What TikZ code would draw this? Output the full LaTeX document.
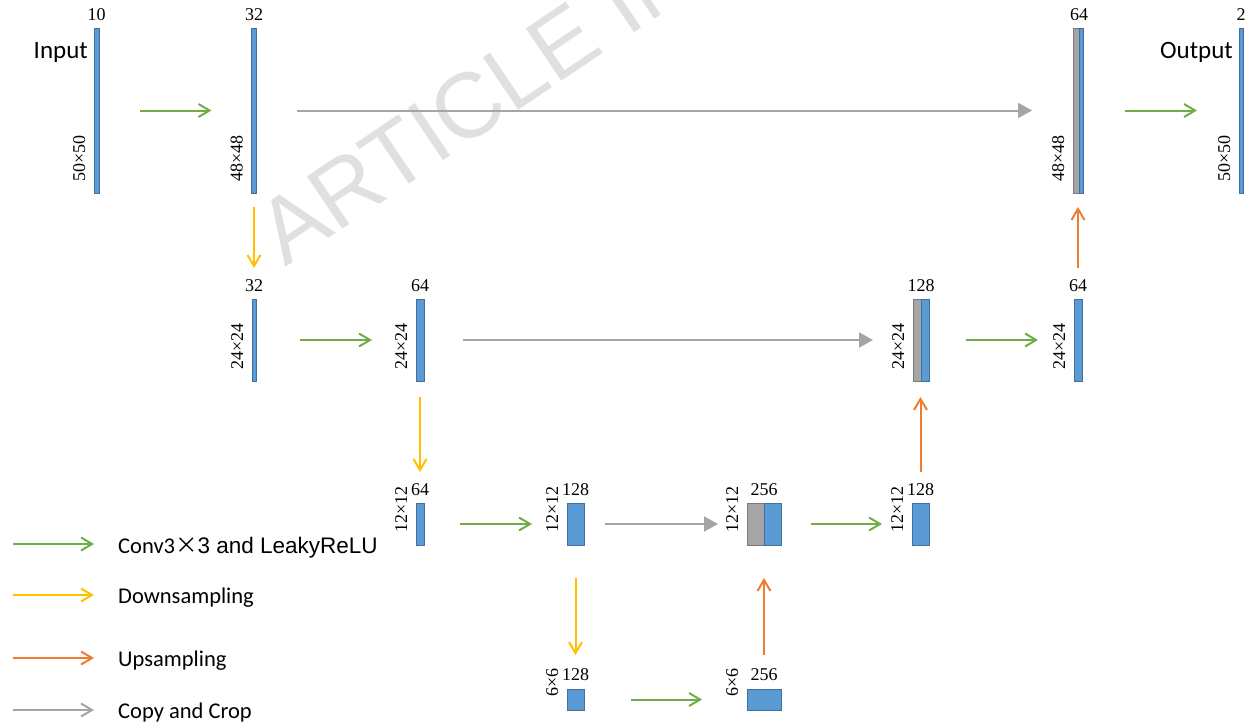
\documentclass[tikz,border=0pt]{standalone}
\usepackage{fontspec}
\setmainfont{Liberation Serif}
\newfontfamily\calfont{Carlito}
\newfontfamily\wmfont{Liberation Sans}
\newfontfamily\arialfont{Liberation Sans}
\newfontfamily\cjkfont{Noto Sans CJK SC}
\usetikzlibrary{arrows.meta}
\definecolor{ublue}{HTML}{5B9BD5}
\definecolor{bblue}{HTML}{41719C}
\definecolor{ugray}{HTML}{A5A5A5}
\definecolor{bgray}{HTML}{7A7A7A}
\definecolor{cgreen}{HTML}{70AD47}
\definecolor{cyellow}{HTML}{FFC000}
\definecolor{corange}{HTML}{ED7D31}
\definecolor{cgrey}{HTML}{A5A5A5}
\definecolor{wmgray}{HTML}{E0E0E0}
\begin{document}
\begin{tikzpicture}[x=1pt,y=-1pt,
  fm/.style={inner sep=0pt, outer sep=0pt, draw=bblue, fill=ublue, line width=0.8pt},
  fg/.style={inner sep=0pt, outer sep=0pt, draw=bgray, fill=ugray, line width=0.8pt},
  num/.style={inner sep=0pt, font=\fontsize{18}{21}\selectfont, anchor=base},
  dimlab/.style={inner sep=0pt, font=\fontsize{18}{21}\selectfont, rotate=90, anchor=base west},
  big/.style={inner sep=0pt, font=\calfont\fontsize{25}{30}\selectfont},
  leg/.style={inner sep=0pt, font=\calfont\fontsize{22.5}{27}\selectfont, anchor=base west},
  arr/.style={line width=2pt, -{Straight Barb[length=11pt,width=13pt,line width=2pt]}},
  tri/.style={line width=2pt, cgrey, -{Triangle[length=14pt,width=15pt]}},
]
\useasboundingbox (0,0) rectangle (1248,723);
% watermark
\begin{scope}
\clip (0,0) rectangle (1248,723);
\node[inner sep=0pt, anchor=base west, rotate=34, text=wmgray, font=\wmfont\fontsize{92}{106}\selectfont] (wm) at (285,268) {ARTICLE IN};
\end{scope}

% ---- boxes ----
% row 1
\node[fm, minimum width=5pt, minimum height=165pt] (in) at (96.5,110.5) {};
\node[fm, minimum width=5pt, minimum height=165pt] (a32) at (254,110.5) {};
\node[fg, minimum width=6pt, minimum height=165pt] (g64) at (1076,110.5) {};
\node[fm, minimum width=4pt, minimum height=165pt] (a64) at (1081,110.5) {};
\node[fm, minimum width=4pt, minimum height=165pt] (out) at (1241,110.5) {};
% row 2
\node[fm, minimum width=4pt, minimum height=82pt] (b32) at (254,340) {};
\node[fm, minimum width=8pt, minimum height=82pt] (b64) at (420,340) {};
\node[fg, minimum width=8pt, minimum height=82pt] (g128) at (917,340) {};
\node[fm, minimum width=8pt, minimum height=82pt] (b128) at (925,340) {};
\node[fm, minimum width=8pt, minimum height=82pt] (b64r) at (1078,340) {};
% row 3
\node[fm, minimum width=8pt, minimum height=42pt] (c64) at (420,524) {};
\node[fm, minimum width=17pt, minimum height=42pt] (c128) at (575.5,524) {};
\node[fg, minimum width=17pt, minimum height=42pt] (g256) at (755.5,524) {};
\node[fm, minimum width=17pt, minimum height=42pt] (c256) at (772.5,524) {};
\node[fm, minimum width=17pt, minimum height=42pt] (c128r) at (920.5,524) {};
% row 4
\node[fm, minimum width=17pt, minimum height=21pt] (d128) at (575.5,699.5) {};
\node[fm, minimum width=34pt, minimum height=21pt] (d256) at (764,699.5) {};

% ---- channel labels ----
\node[num] (n-in) at ([yshift=8pt]in.north) {10};
\node[num] (n-a32) at ([yshift=8pt]a32.north) {32};
\node[num] (n-a64) at ([yshift=8pt]g64.north east) {64};
\node[num] (n-out) at ([yshift=8pt]out.north) {2};
\node[num] (n-b32) at ([yshift=8pt]b32.north) {32};
\node[num] (n-b64) at ([yshift=8pt]b64.north) {64};
\node[num] (n-b128) at ([yshift=8pt]g128.north east) {128};
\node[num] (n-b64r) at ([yshift=8pt]b64r.north) {64};
\node[num] (n-c64) at ([yshift=8pt]c64.north) {64};
\node[num] (n-c128) at ([yshift=8pt]c128.north) {128};
\node[num] (n-c256) at ([yshift=8pt]g256.north east) {256};
\node[num] (n-c128r) at ([yshift=8pt]c128r.north) {128};
\node[num] (n-d128) at ([yshift=9pt]d128.north) {128};
\node[num] (n-d256) at ([yshift=9pt]d256.north) {256};

% ---- size labels ----
\node[dimlab] (s-in) at ([xshift=-9pt,yshift=11pt]in.south west) {50×50};
\node[dimlab] (s-a32) at ([xshift=-9pt,yshift=11pt]a32.south west) {48×48};
\node[dimlab] (s-a64) at ([xshift=-9pt,yshift=11pt]g64.south west) {48×48};
\node[dimlab] (s-out) at ([xshift=-9pt,yshift=11pt]out.south west) {50×50};
\node[dimlab] (s-b32) at ([xshift=-9pt,yshift=11pt]b32.south west) {24×24};
\node[dimlab] (s-b64) at ([xshift=-9pt,yshift=11pt]b64.south west) {24×24};
\node[dimlab] (s-b128) at ([xshift=-9pt,yshift=11pt]g128.south west) {24×24};
\node[dimlab] (s-b64r) at ([xshift=-9pt,yshift=11pt]b64r.south west) {24×24};
\node[dimlab] (s-c64) at ([xshift=-9pt,yshift=12pt]c64.south west) {12×12};
\node[dimlab] (s-c128) at ([xshift=-9pt,yshift=12pt]c128.south west) {12×12};
\node[dimlab] (s-c256) at ([xshift=-9pt,yshift=12pt]g256.south west) {12×12};
\node[dimlab] (s-c128r) at ([xshift=-9pt,yshift=12pt]c128r.south west) {12×12};
\node[dimlab] (s-d128) at ([xshift=-9pt,yshift=13pt]d128.south west) {6×6};
\node[dimlab] (s-d256) at ([xshift=-9pt,yshift=13pt]d256.south west) {6×6};

% ---- Input / Output ----
\node[big, anchor=east] (t-in) at (88,52) {Input};
\node[big, anchor=east] (t-out) at (1233,52) {Output};

% ---- green arrows ----
\draw[arr, cgreen, shorten <=41pt, shorten >=40pt] (in) -- (a32);
\draw[arr, cgreen, shorten <=42pt, shorten >=42pt] (a64) -- (out);
\draw[arr, cgreen, shorten <=44pt, shorten >=44pt] (b32) -- (b64);
\draw[arr, cgreen, shorten <=37pt, shorten >=36pt] (b128) -- (b64r);
\draw[arr, cgreen, shorten <=36pt, shorten >=35pt] (c64) -- (c128);
\draw[arr, cgreen, shorten <=30pt, shorten >=30pt] (c256) -- (c128r);
\draw[arr, cgreen, shorten <=47pt, shorten >=45pt] (d128.east) -- (d128.east -| d256.west);

% ---- grey copy arrows ----
\draw[tri, shorten <=40pt, shorten >=41pt] (a32) -- (g64);
\draw[tri, shorten <=39pt, shorten >=40pt] (b64) -- (g128);
\draw[tri, shorten <=21pt, shorten >=29pt] (c128) -- (g256);

% ---- yellow down arrows ----
\draw[arr, cyellow, shorten <=14pt, shorten >=31pt] (a32) -- (b32);
\draw[arr, cyellow, shorten <=16pt, shorten >=31pt] (b64) -- (c64);
\draw[arr, cyellow, shorten <=33pt, shorten >=34pt] (c128) -- (d128);

% ---- orange up arrows ----
\draw[arr, corange, shorten <=34pt, shorten >=33pt] (d256.north) -- (g256.south east);
\draw[arr, corange, shorten <=31pt, shorten >=16pt] (c128r.north) -- (c128r.north |- g128.south east);
\draw[arr, corange, shorten <=31pt, shorten >=14pt] (b64r.north) -- (b64r.north |- g64.south east);

% ---- legend ----
\coordinate (l1a) at (13,544); \coordinate (l1b) at (94,544);
\coordinate (l2a) at (13,595); \coordinate (l2b) at (94,595);
\coordinate (l3a) at (13,658); \coordinate (l3b) at (94,658);
\coordinate (l4a) at (13,710); \coordinate (l4b) at (94,710);
\draw[arr, cgreen] (l1a) -- (l1b);
\draw[arr, cyellow] (l2a) -- (l2b);
\draw[arr, corange] (l3a) -- (l3b);
\draw[arr, cgrey] (l4a) -- (l4b);
\node[leg] (t1) at (118,553) {Conv3{\cjkfont ×}{\arialfont\fontsize{22.5}{27}\selectfont 3 and LeakyReLU}};
\node[leg] (t2) at (118,603) {Downsampling};
\node[leg] (t3) at (118,666) {Upsampling};
\node[leg] (t4) at (118,718) {Copy and Crop};
\end{tikzpicture}
\end{document}
